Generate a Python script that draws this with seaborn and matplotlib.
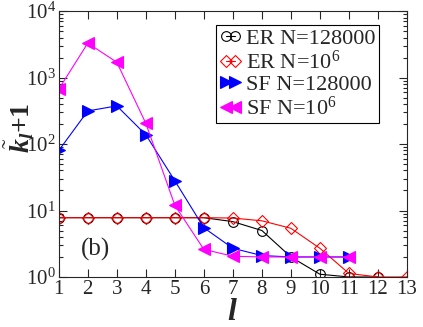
import matplotlib
matplotlib.use('Agg')
import matplotlib.pyplot as plt
import seaborn as sns
import pandas as pd

# values
l_er1 = [1, 2, 3, 4, 5, 6, 7, 8, 9, 10, 11, 12]
er_128000 = [7.8, 7.8, 7.8, 7.8, 7.8, 7.8, 6.8, 5.0, 2.0, 1.1, 1.0, 1.0]
l_er2 = [1, 2, 3, 4, 5, 6, 7, 8, 9, 10, 11, 12, 13]
er_1e6 = [7.8, 7.8, 7.8, 7.8, 7.8, 7.8, 7.7, 7.0, 5.4, 2.7, 1.13, 1.0, 1.0]
l_sf = [1, 2, 3, 4, 5, 6, 7, 8, 9, 10, 11]
sf_128000 = [80, 315, 375, 138, 28, 5.5, 2.7, 2.1, 2.0, 2.0, 2.0]
sf_1e6 = [670, 3300, 1700, 205, 12, 2.6, 2.05, 2.0, 2.0, 2.0, 2.0]

sns.set_style('ticks')
plt.rcParams['font.family'] = ['Liberation Serif', 'DejaVu Serif']
plt.rcParams['mathtext.fontset'] = 'custom'
plt.rcParams['mathtext.rm'] = 'Liberation Serif'
plt.rcParams['mathtext.it'] = 'Liberation Serif:italic:bold'
plt.rcParams['mathtext.bf'] = 'Liberation Serif:bold'

fig = plt.figure(figsize=(4.23, 3.27), dpi=100)
ax = fig.add_axes([0.139, 0.153, 0.823, 0.813])

series = [
    (l_er1, er_128000, 'ER N=128000', 'black', 'o', 'none', 7),
    (l_er2, er_1e6, 'ER N=10$^6$', 'red', 'D', 'none', 6),
    (l_sf, sf_128000, 'SF N=128000', 'blue', '>', 'blue', 8.5),
    (l_sf, sf_1e6, 'SF N=10$^6$', 'magenta', '<', 'magenta', 8.5),
]
for xs, ys, name, col, mk, fc, ms in series:
    df = pd.DataFrame({'l': xs, 'k': ys})
    sns.lineplot(data=df, x='l', y='k', ax=ax, color=col, marker=mk,
                 markersize=ms, markerfacecolor=fc, markeredgecolor=col,
                 markeredgewidth=0.8, linewidth=0.8, label=name)

ax.set_yscale('log')
ax.set_xlim(1, 13)
ax.set_ylim(1, 1e4)
ax.set_xticks(range(1, 14))
ax.tick_params(which='both', direction='in', top=True, right=True,
               labelsize=15, width=0.8, pad=2)
ax.tick_params(which='major', length=6)
ax.tick_params(which='minor', length=3)
for s in ax.spines.values():
    s.set_linewidth(0.8)

ax.set_xlabel('$l$', fontsize=23)
ax.xaxis.set_label_coords(0.5, -0.08)
ax.set_ylabel(r'$\tilde{k}_l$+1', fontsize=20, fontweight='bold')
ax.yaxis.set_label_coords(-0.065, 0.56)
ax.text(2.27, 2.6, '(b)', fontsize=18, ha='center', va='center')

leg = ax.legend(loc='upper left', bbox_to_anchor=(0.451, 0.947), fontsize=16,
                numpoints=2, handlelength=1.0, handletextpad=0.2,
                borderpad=0.15, labelspacing=0.05, fancybox=False,
                borderaxespad=0.0, framealpha=1)
leg.get_frame().set_edgecolor('black')
leg.get_frame().set_linewidth(0.8)

fig.savefig('out.png', dpi=100)
